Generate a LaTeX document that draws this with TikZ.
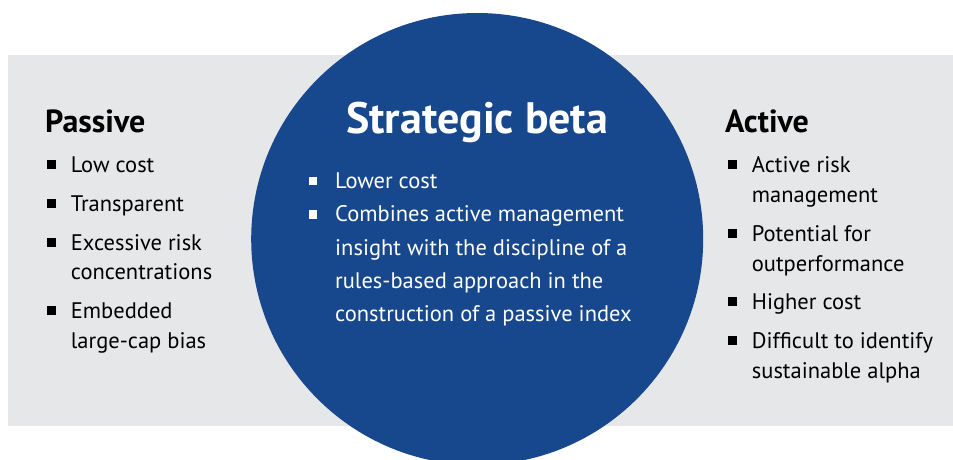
\documentclass[tikz,border=0pt]{standalone}
\usepackage{fontspec}
\setmainfont{PT Sans}
\definecolor{panelgray}{HTML}{E6E7E8}
\definecolor{betablue}{HTML}{17478C}
\begin{document}
\begin{tikzpicture}[x=1pt,y=-1pt,
  body/.style={anchor=base west, inner sep=0pt, font=\fontsize{22.5}{27}\selectfont},
  heading/.style={anchor=base west, inner sep=0pt, font=\fontsize{32}{36}\selectfont\bfseries},
  title/.style={anchor=base west, inner sep=0pt, text=white, font=\fontsize{44}{50}\selectfont\bfseries},
  sq/.style={fill=black, minimum size=9pt, inner sep=0pt, anchor=north west},
  wsq/.style={fill=white, minimum size=8.5pt, inner sep=0pt, anchor=north west},
  inner/.style={body, text=white},
]
\useasboundingbox (0,0) rectangle (953,459);
\clip (0,0) rectangle (953,459);
% grey band and the central disc
\fill[panelgray] (8,55) rectangle (953,425.5);
\fill[betablue] (477.2,239) circle[radius=226pt];

% Passive
\node[heading] (passive) at (45,132.3) {Passive};
\node[sq] (pb1) at (46.7,160) {};
\node[sq] (pb2) at (46.7,198.5) {};
\node[sq] (pb3) at (46.7,237.5) {};
\node[sq] (pb4) at (46.7,306) {};
\node[body] (p1) at (70.7,172.5) {Low cost};
\node[body] (p2) at (70.7,211) {Transparent};
\node[body] (p3a) at (70.7,250) {Excessive risk};
\node[body] (p3b) at (70.7,279.5) {concentrations};
\node[body] (p4a) at (70.7,318.5) {Embedded};
\node[body] (p4b) at (70.7,348) {large-cap bias};

% Strategic beta
\node[title] (beta) at (346,133) {Strategic beta};
\node[wsq] (sb1) at (308.3,176.7) {};
\node[wsq] (sb2) at (308.3,210) {};
\node[inner] (s1) at (335,188.3) {Lower cost};
\node[inner] (s2a) at (335,221.7) {Combines active management};
\node[inner] (s2b) at (335,255) {insight with the discipline of a};
\node[inner] (s2c) at (335,288.3) {rules-based approach in the};
\node[inner] (s2d) at (335,321) {construction of a passive index};

% Active
\node[heading] (active) at (725,132.3) {Active};
\node[sq] (ab1) at (727.3,160) {};
\node[sq] (ab2) at (727.3,228.5) {};
\node[sq] (ab3) at (727.3,297) {};
\node[sq] (ab4) at (727.3,335.5) {};
\node[body] (a1a) at (751.7,172.5) {Active risk};
\node[body] (a1b) at (751.7,202.5) {management};
\node[body] (a2a) at (751.7,241) {Potential for};
\node[body] (a2b) at (751.7,271) {outperformance};
\node[body] (a3) at (751.7,309.5) {Higher cost};
\node[body] (a4a) at (751.7,348) {Difficult to identify};
\node[body] (a4b) at (751.7,378) {sustainable alpha};
\end{tikzpicture}
\end{document}
